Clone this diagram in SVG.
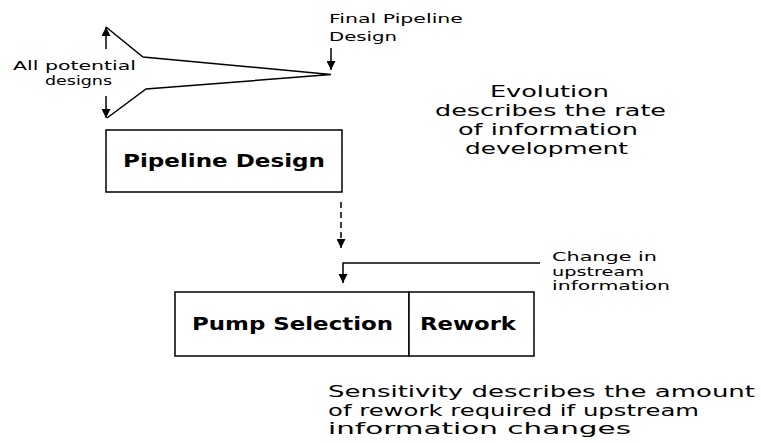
<svg xmlns="http://www.w3.org/2000/svg" width="761" height="443" viewBox="0 0 761 443">
<style>
.bg{fill:#fff}
.box{fill:#fff;stroke:#000;stroke-width:1.5}
.bt{font-family:"DejaVu Sans","Liberation Sans",sans-serif;font-weight:bold;font-size:18px;fill:#000}
.sm{font-family:"DejaVu Sans","Liberation Sans",sans-serif;font-size:13px;fill:#000}
.xs{font-family:"DejaVu Sans","Liberation Sans",sans-serif;font-size:12px;fill:#000}
.lg{font-family:"DejaVu Sans","Liberation Sans",sans-serif;font-size:15.5px;fill:#000}
.ln{fill:none;stroke:#000;stroke-width:1.5}
.dash{stroke-dasharray:6 4}
</style>
<defs>
<marker id="ah" viewBox="0 0 10 10" refX="10" refY="5" markerWidth="10" markerHeight="9" markerUnits="userSpaceOnUse" orient="auto">
<path d="M0,0 L10,5 L0,10 z" fill="#000"/>
</marker>
</defs>
<rect class="bg" x="0" y="0" width="761" height="443"/>

<g id="evolution-fan">
<polyline class="ln" points="106,27 143,57 331,74.5 146,89 107,118"/>
</g>

<g id="connectors">
<line class="ln" x1="106" y1="49" x2="106" y2="27" marker-end="url(#ah)"/>
<line class="ln" x1="106" y1="96" x2="106" y2="118" marker-end="url(#ah)"/>
<line class="ln" x1="331" y1="48" x2="331" y2="70" marker-end="url(#ah)"/>
<line class="ln dash" x1="341" y1="202" x2="341" y2="248" marker-end="url(#ah)"/>
<polyline class="ln" points="540,263 343,263 343,283" marker-end="url(#ah)"/>
</g>

<g id="pipeline-design">
<rect class="box" x="106" y="130" width="236" height="62"/>
<text class="bt" x="123" y="167" textLength="202" lengthAdjust="spacingAndGlyphs">Pipeline Design</text>
</g>

<g id="pump-selection">
<rect class="box" x="175" y="292" width="234" height="64"/>
<text class="bt" x="192" y="330" textLength="201" lengthAdjust="spacingAndGlyphs">Pump Selection</text>
</g>

<g id="rework">
<rect class="box" x="409" y="292" width="125" height="64"/>
<text class="bt" x="420" y="330" textLength="96" lengthAdjust="spacingAndGlyphs">Rework</text>
</g>

<g id="labels">
<text class="xs" x="13" y="70" textLength="123" lengthAdjust="spacingAndGlyphs">All potential</text>
<text class="xs" x="45" y="85" textLength="67" lengthAdjust="spacingAndGlyphs">designs</text>
<text class="sm" x="329" y="23" textLength="134" lengthAdjust="spacingAndGlyphs">Final Pipeline</text>
<text class="sm" x="329" y="41" textLength="68" lengthAdjust="spacingAndGlyphs">Design</text>
<text class="sm" x="552" y="261" textLength="105" lengthAdjust="spacingAndGlyphs">Change in</text>
<text class="sm" x="552" y="275.5" textLength="92" lengthAdjust="spacingAndGlyphs">upstream</text>
<text class="sm" x="552" y="290" textLength="118" lengthAdjust="spacingAndGlyphs">information</text>
<text class="lg" x="490" y="97" textLength="119" lengthAdjust="spacingAndGlyphs">Evolution</text>
<text class="lg" x="435" y="116" textLength="231" lengthAdjust="spacingAndGlyphs">describes the rate</text>
<text class="lg" x="458" y="135" textLength="180" lengthAdjust="spacingAndGlyphs">of information</text>
<text class="lg" x="465" y="154" textLength="163" lengthAdjust="spacingAndGlyphs">development</text>
<text class="lg" x="328" y="397" textLength="427" lengthAdjust="spacingAndGlyphs">Sensitivity describes the amount</text>
<text class="lg" x="328" y="415.5" textLength="371" lengthAdjust="spacingAndGlyphs">of rework required if upstream</text>
<text class="lg" x="328" y="434" textLength="303" lengthAdjust="spacingAndGlyphs">information changes</text>
</g>
</svg>
